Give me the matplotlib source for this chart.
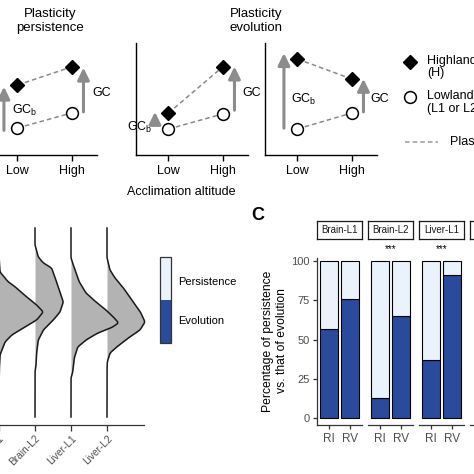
import numpy as np
import matplotlib.pyplot as plt
from matplotlib.patches import Rectangle

plt.rcParams['font.family'] = ['Liberation Sans', 'DejaVu Sans']

# ---------------- data ----------------
# panel A: trait value (arbitrary units) at low / high acclimation altitude
altitude = ['Low', 'High']
highland = [[0.625, 0.786], [0.375, 0.786], [0.857, 0.679]]
lowland = [[0.241, 0.375], [0.232, 0.366], [0.232, 0.375]]
gc_b_arrow = [[0.22, 0.61], [0.27, 0.385], [0.24, 0.91]]
gc_arrow = [[0.385, 0.78], [0.40, 0.79], [0.385, 0.68]]

# panel B: density ridges (level, density)
ridge_names = ['Brain-L1', 'Brain-L2', 'Liver-L1', 'Liver-L2']
bl1_level = [189, 172, 155, 145, 135, 129, 120, 112, 105, 97, 89, 82, 75, 62, 47, 27, 0]
bl1_dens = [0, 0, 0.3, 1, 9.3, 17.7, 27.7, 37.7, 44.3, 37.7, 24.3, 12.7, 6, 1, 0.3, 0, 0]
bl2_level = [189, 172, 160, 154, 149, 130, 115, 105, 97, 87, 77, 65, 52, 45, 0]
bl2_dens = [0, 0, 3.3, 8.3, 16.7, 23.3, 28.3, 25, 18.3, 8.3, 3.3, 1.7, 1, 0, 0]
ll1_level = [189, 159, 149, 135, 124, 115, 107, 99, 94, 89, 84, 77, 70, 59, 45, 39, 0]
ll1_dens = [0, 0, 3.3, 8.3, 15, 25, 35, 43.3, 47.7, 40, 26.7, 15, 6.7, 3.3, 1.7, 0, 0]
ll2_level = [189, 159, 147, 139, 127, 115, 104, 95, 87, 79, 70, 64, 55, 45, 0]
ll2_dens = [0, 0, 3, 8, 18, 26.3, 34, 38, 33, 21.3, 9.7, 3, 0.3, 0, 0]
ridge_levels = [bl1_level, bl2_level, ll1_level, ll2_level]
ridge_dens = [bl1_dens, bl2_dens, ll1_dens, ll2_dens]

# panel C: percentage of evolution (rest = persistence)
tissues = ['Brain-L1', 'Brain-L2', 'Liver-L1', 'Liver-L2']
groups = ['RI', 'RV']
evolution_pct = [[57, 76], [13, 65], [37, 91]]
signif = ['', '***', '***', '']

DARK = '#2a4b9b'
LIGHT = '#eaf3fc'
GREY_TXT = '#4d4d4d'
S = 474.0

fig = plt.figure(figsize=(4.74, 4.74), dpi=100)


def add_ax(x0, y0, x1, y1):
    return fig.add_axes([x0 / S, 1 - y1 / S, (x1 - x0) / S, (y1 - y0) / S])


# overlay in pixel coordinates for loose labels
ov = add_ax(0, 0, S, S)
ov.set_xlim(0, S)
ov.set_ylim(S, 0)
ov.axis('off')
ov.patch.set_visible(False)

# =====================================================
# A. schematic
# =====================================================
a_left = [-15, 136, 265]
for k in range(3):
    ax = add_ax(a_left[k], 43, a_left[k] + 112, 155)
    ax.set_xlim(-0.6, 1.47)
    ax.set_ylim(0, 1)
    for s in ['top', 'right']:
        ax.spines[s].set_visible(False)
    ax.spines['left'].set_linewidth(1)
    ax.spines['bottom'].set_linewidth(1)
    ax.set_yticks([])
    ax.set_xticks([0, 1])
    ax.set_xticklabels(altitude, fontsize=9)
    ax.tick_params(axis='x', length=4, width=1, pad=3)
    ax.patch.set_visible(False)

    ax.plot([0, 1], highland[k], ls=(0, (3, 2)), color='#8a8a8a', lw=1.1, zorder=2)
    ax.plot([0, 1], lowland[k], ls=(0, (3, 2)), color='#8a8a8a', lw=1.1, zorder=2)
    ax.plot([0, 1], highland[k], 'D', color='black', ms=6.8, zorder=3, clip_on=False)
    ax.plot([0, 1], lowland[k], 'o', mfc='white', mec='black', mew=1.1, ms=8.5,
            zorder=3, clip_on=False)

    for xa, (y0, y1) in [(-0.25, gc_b_arrow[k]), (1.22, gc_arrow[k])]:
        ax.annotate('', xy=(xa, y1), xytext=(xa, y0), annotation_clip=False,
                    arrowprops=dict(arrowstyle='-|>,head_length=0.45,head_width=0.22',
                                    color='#8c8c8c', lw=2.2, shrinkA=0, shrinkB=0,
                                    mutation_scale=16))

# GC labels
ov.text(12, 110, r'GC$_\mathregular{b}$', fontsize=9, va='center')
ov.text(92, 93, 'GC', fontsize=9, va='center')
ov.text(127, 127, r'GC$_\mathregular{b}$', fontsize=9, va='center')
ov.text(242, 93, 'GC', fontsize=9, va='center')
ov.text(291, 99, r'GC$_\mathregular{b}$', fontsize=9, va='center')
ov.text(370, 99, 'GC', fontsize=9, va='center')

ov.text(50, 21, 'Plasticity\npersistence', fontsize=9.5, ha='center', va='center',
        linespacing=1.2)
ov.text(256, 21, 'Plasticity\nevolution', fontsize=9.5, ha='center', va='center',
        linespacing=1.2)
ov.text(181, 192, 'Acclimation altitude', fontsize=9, ha='center', va='center')

# legend of A
ov.plot(410, 62, 'D', color='black', ms=6.8)
ov.plot(410, 97, 'o', mfc='white', mec='black', mew=1.1, ms=8.5)
ov.plot([405, 438], [142, 142], ls=(0, (3, 2)), color='#9a9a9a', lw=1.1)
ov.text(427, 61, 'Highland', fontsize=9, va='center')
ov.text(427, 73, '(H)', fontsize=9, va='center')
ov.text(427, 96, 'Lowland', fontsize=9, va='center')
ov.text(427, 109, '(L1 or L2)', fontsize=9, va='center')
ov.text(450, 142, 'Plasticity', fontsize=9, va='center')

# =====================================================
# B. density ridges
# =====================================================
axb = add_ax(-20, 220, 144, 425)
axb.set_xlim(-0.528, 4.028)
axb.set_ylim(-8, 197)
for s in ['top', 'right', 'left']:
    axb.spines[s].set_visible(False)
axb.spines['bottom'].set_linewidth(0.9)
axb.spines['bottom'].set_color('#333333')
axb.set_yticks([])
axb.set_xticks(range(4))
axb.set_xticklabels(ridge_names, rotation=45, ha='right', rotation_mode='anchor',
                    fontsize=7.3, color=GREY_TXT)
axb.tick_params(axis='x', length=4, width=0.9, color='#333333', pad=2)
axb.patch.set_visible(False)

for i in range(3, -1, -1):
    lv = np.array(ridge_levels[i], dtype=float)[::-1]
    dn = np.array(ridge_dens[i], dtype=float)[::-1]
    grid = np.arange(0, 189.5, 0.5)
    d = np.interp(grid, lv, dn)
    d = np.convolve(d, np.ones(7) / 7, mode='same')
    xs = i + d / 36.0
    axb.fill_betweenx(grid, i, xs, color='#b3b3b3', lw=0, clip_on=False, zorder=2)
    axb.plot(xs, grid, color='#1a1a1a', lw=1.1, clip_on=False, zorder=3)

# legend of B
ov.add_patch(Rectangle((160, 257), 11, 43, facecolor=LIGHT, edgecolor='none'))
ov.add_patch(Rectangle((160, 300), 11, 43, facecolor=DARK, edgecolor='none'))
ov.add_patch(Rectangle((160, 257), 11, 86, facecolor='none', edgecolor='#333333', lw=0.9))
ov.text(178, 282, 'Persistence', fontsize=8, va='center')
ov.text(178, 321, 'Evolution', fontsize=8, va='center')

# =====================================================
# C. stacked bars per facet
# =====================================================
ov.text(258, 215, 'C', fontsize=13, fontweight='bold', ha='center', va='center')

for k, name in enumerate(tissues):
    x0 = 317 + 51 * k
    ax = add_ax(x0, 258, x0 + 45, 425)
    ax.set_xlim(0.4, 2.6)
    ax.set_ylim(-4.5, 102)
    ax.patch.set_visible(False)
    for s in ['top', 'right']:
        ax.spines[s].set_visible(False)
    ax.spines['bottom'].set_color('#333333')
    ax.spines['bottom'].set_linewidth(0.9)
    if k == 0:
        ax.spines['left'].set_color('#333333')
        ax.spines['left'].set_linewidth(0.9)
        ax.set_yticks([0, 25, 50, 75, 100])
        ax.tick_params(axis='y', length=3, width=0.9, color='#333333',
                       labelsize=8, labelcolor=GREY_TXT, pad=2)
    else:
        ax.spines['left'].set_visible(False)
        ax.set_yticks([])
    ax.set_xticks([1, 2])
    ax.set_xticklabels(groups)
    ax.tick_params(axis='x', length=3, width=0.9, color='#333333',
                   labelsize=8.5, labelcolor=GREY_TXT, pad=3)

    if k < len(evolution_pct):
        evo = evolution_pct[k]
        per = [100 - v for v in evo]
        ax.bar([1, 2], evo, width=0.9, color=DARK, edgecolor='black', lw=0.8)
        ax.bar([1, 2], per, bottom=evo, width=0.9, color=LIGHT, edgecolor='black', lw=0.8)
    if signif[k]:
        ax.text(1.5, 108, signif[k], fontsize=7, ha='center', va='center', clip_on=False)

    # facet strip
    st = add_ax(x0, 221, x0 + 45, 239)
    st.set_xticks([])
    st.set_yticks([])
    for s in st.spines.values():
        s.set_linewidth(0.9)
        s.set_color('#1a1a1a')
    st.text(0.5, 0.5, name, fontsize=7, ha='center', va='center', color='#1a1a1a',
            transform=st.transAxes)

ov.text(275, 341, 'Percentage of persistence\nvs. that of evolution', fontsize=8.7,
        rotation=90, ha='center', va='center', linespacing=1.15)

plt.savefig('out.png', dpi=100)
plt.close()
